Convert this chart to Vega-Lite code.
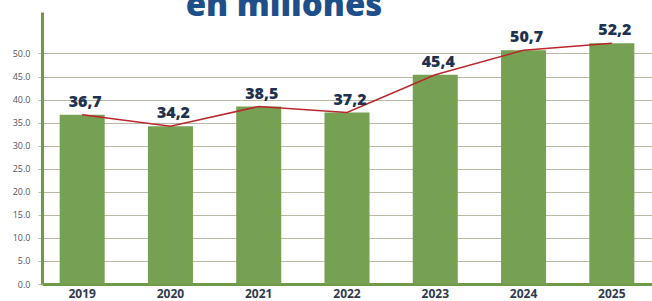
{
  "$schema": "https://vega.github.io/schema/vega-lite/v6.json",
  "autosize": "none",
  "width": 610,
  "height": 272,
  "padding": {"left": 42, "top": 12, "right": 0, "bottom": 17},
  "background": "white",
  "title": {
    "text": "en millones",
    "orient": "top",
    "anchor": "middle",
    "frame": "group",
    "offset": -37,
    "dx": -63,
    "baseline": "alphabetic",
    "font": "Open Sans",
    "fontSize": 33,
    "fontWeight": 800,
    "color": "#1d4f8a"
  },
  "data": {
    "values": [
      {"year": "2019", "value": 36.7, "label": "36,7"},
      {"year": "2020", "value": 34.2, "label": "34,2"},
      {"year": "2021", "value": 38.5, "label": "38,5"},
      {"year": "2022", "value": 37.2, "label": "37,2"},
      {"year": "2023", "value": 45.4, "label": "45,4"},
      {"year": "2024", "value": 50.7, "label": "50,7"},
      {"year": "2025", "value": 52.2, "label": "52,2"}
    ]
  },
  "encoding": {
    "x": {
      "field": "year",
      "type": "ordinal",
      "scale": {"paddingInner": 0.49, "paddingOuter": 0.2},
      "axis": {
        "title": null,
        "labelAngle": 0,
        "labelFont": "Open Sans",
        "labelFontWeight": "bold",
        "labelFontSize": 12,
        "labelColor": "#2f3b4c",
        "labelPadding": 4,
        "ticks": false,
        "domainColor": "#6f9a47",
        "domainWidth": 3,
        "grid": false
      }
    },
    "y": {
      "field": "value",
      "type": "quantitative",
      "scale": {"domain": [0, 59], "nice": false},
      "axis": {
        "title": null,
        "values": [0, 5, 10, 15, 20, 25, 30, 35, 40, 45, 50],
        "format": ".1f",
        "labelFont": "Open Sans",
        "labelFontSize": 9,
        "labelColor": "#555555",
        "labelPadding": 8,
        "tickColor": "#b9b9a4",
        "tickSize": 4,
        "grid": true,
        "gridColor": "#b9b9a4",
        "gridWidth": 1,
        "domainColor": "#6f9a47",
        "domainWidth": 3
      }
    }
  },
  "layer": [
    {"mark": {"type": "bar", "color": "#77a152"}},
    {"mark": {"type": "line", "color": "#b8272c", "strokeWidth": 1.5}},
    {
      "mark": {
        "type": "text",
        "dy": -5,
        "dx": 3,
        "font": "Open Sans",
        "fontSize": 16,
        "fontWeight": 800,
        "color": "#1e3250",
        "baseline": "bottom"
      },
      "encoding": {"text": {"field": "label"}}
    }
  ],
  "config": {"view": {"stroke": null}}
}
